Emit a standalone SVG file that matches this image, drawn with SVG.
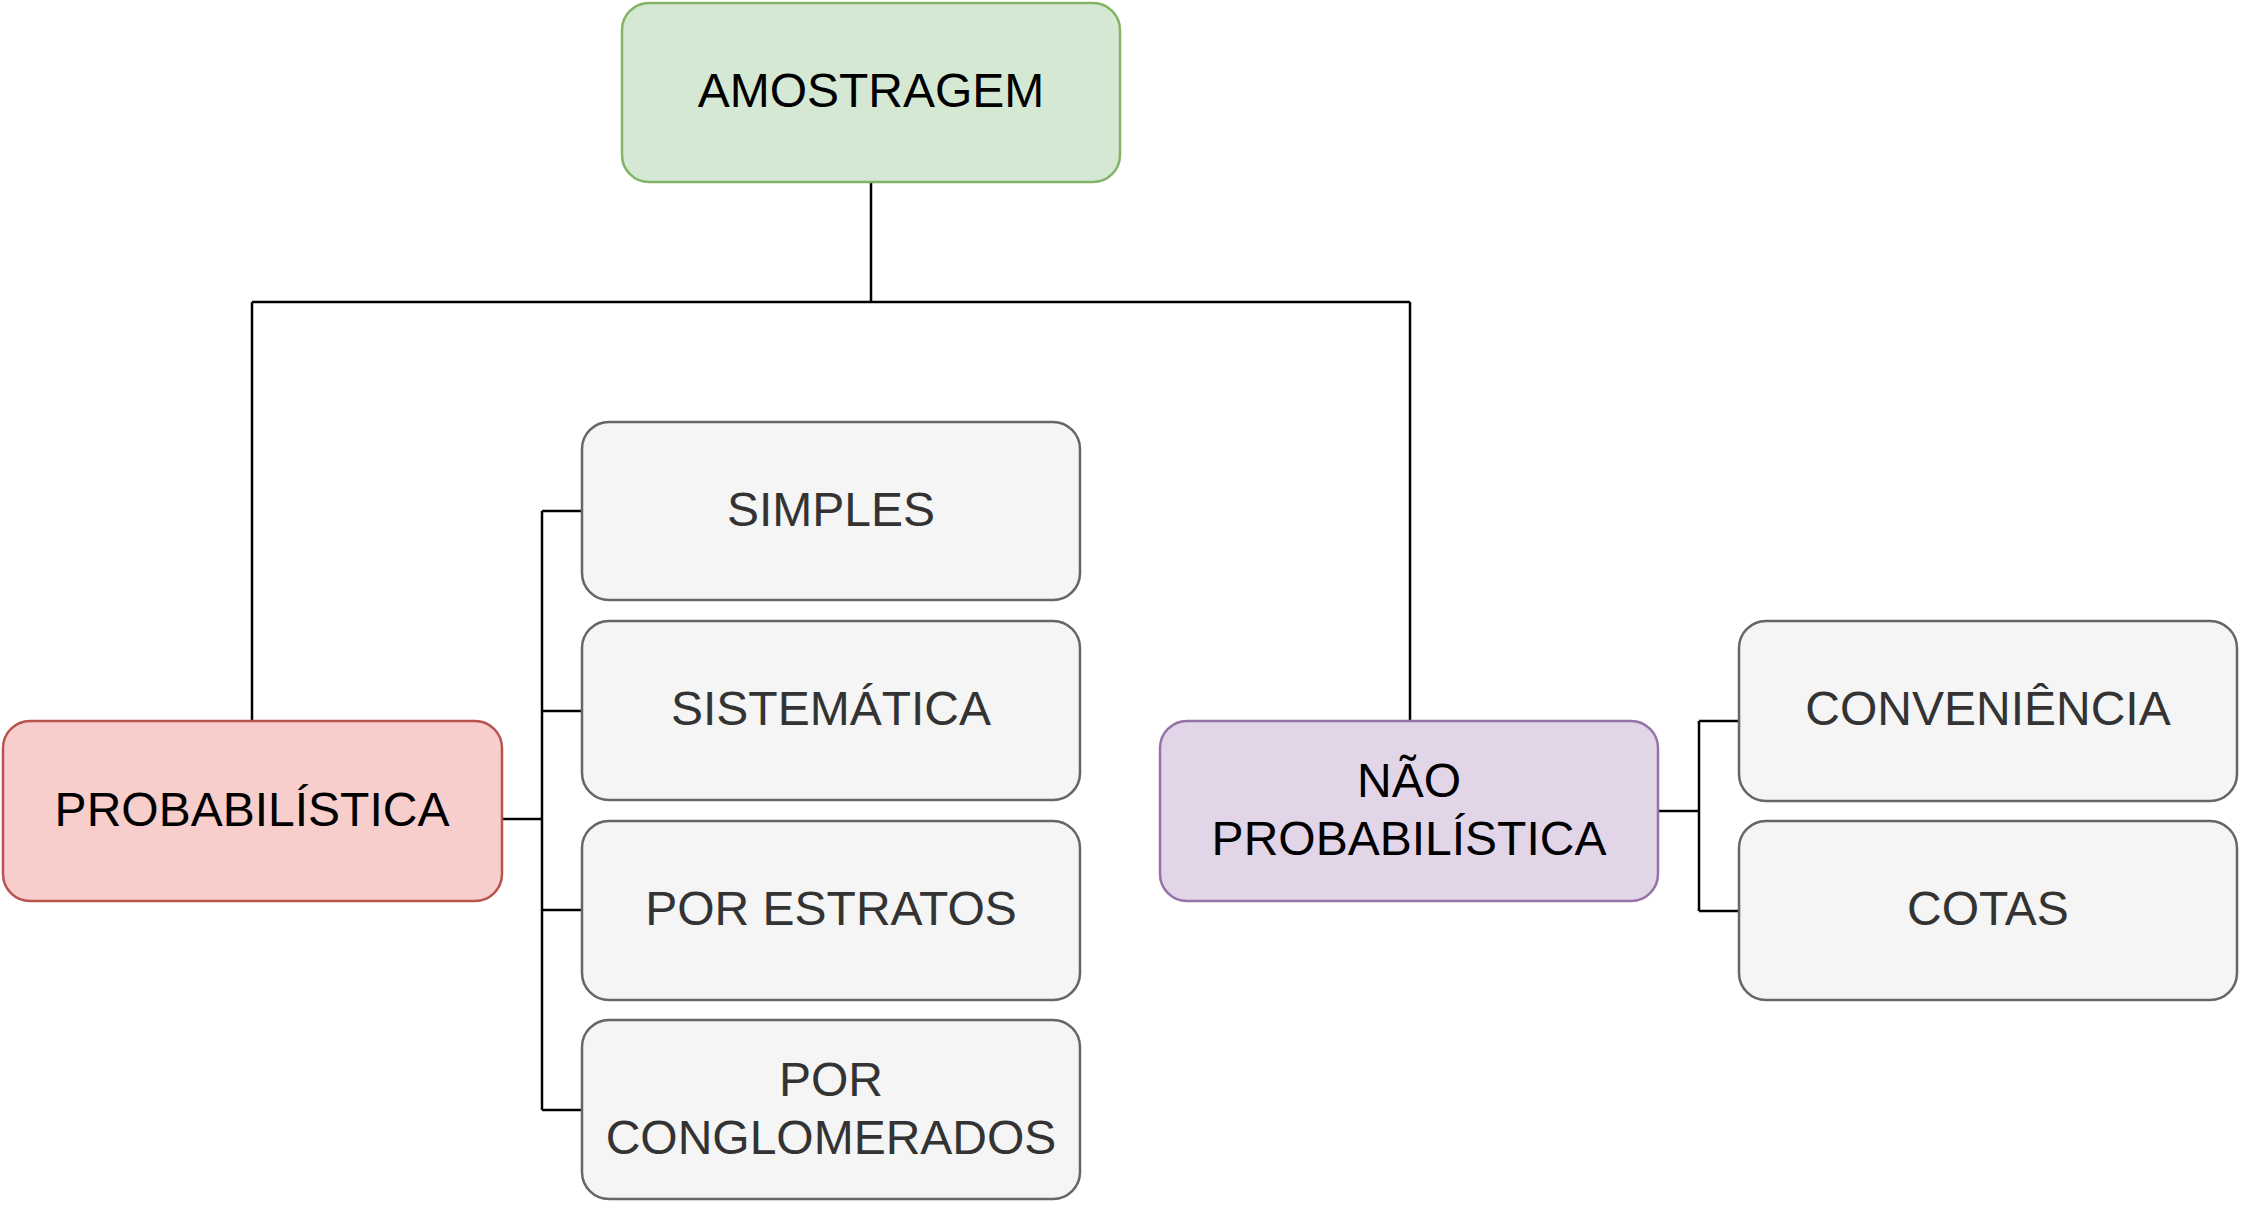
<svg xmlns="http://www.w3.org/2000/svg" width="2242" height="1208" viewBox="0 0 2242 1208">
<style>
.box{stroke-width:2.5}
.green{fill:#d5e8d4;stroke:#82b366}
.red{fill:#f8cecc;stroke:#b85450}
.purple{fill:#e1d5e7;stroke:#9673a6}
.gray{fill:#f5f5f5;stroke:#666666}
.t{font-family:"Liberation Sans",Arial,sans-serif;font-size:48px;text-anchor:middle;fill:#000000}
.tg{fill:#333333}
.c{fill:none;stroke:#000000;stroke-width:2.5}
</style>
<rect width="2242" height="1208" fill="#ffffff"/>
<g id="connectors">
<path class="c" d="M871,182 V302 M252,302 H1410 M252,302 V721 M1410,302 V721"/>
<path class="c" d="M502,819 H542 M542,511 V1110 M542,511 H582 M542,711 H582 M542,910 H582 M542,1110 H582"/>
<path class="c" d="M1658,811 H1699 M1699,721 V911 M1699,721 H1739 M1699,911 H1739"/>
</g>
<g id="amostragem">
<rect class="box green" x="622" y="3" width="498" height="179" rx="27"/>
<text class="t" x="871" y="107">AMOSTRAGEM</text>
</g>
<g id="probabilistica">
<rect class="box red" x="3" y="721" width="499" height="180" rx="27"/>
<text class="t" x="252" y="826">PROBABILÍSTICA</text>
</g>
<g id="nao-probabilistica">
<rect class="box purple" x="1160" y="721" width="498" height="180" rx="27"/>
<text class="t" x="1409" y="797">NÃO</text>
<text class="t" x="1409" y="855">PROBABILÍSTICA</text>
</g>
<g id="simples">
<rect class="box gray" x="582" y="422" width="498" height="178" rx="27"/>
<text class="t tg" x="831" y="526">SIMPLES</text>
</g>
<g id="sistematica">
<rect class="box gray" x="582" y="621" width="498" height="179" rx="27"/>
<text class="t tg" x="831" y="725">SISTEMÁTICA</text>
</g>
<g id="por-estratos">
<rect class="box gray" x="582" y="821" width="498" height="179" rx="27"/>
<text class="t tg" x="831" y="925">POR ESTRATOS</text>
</g>
<g id="por-conglomerados">
<rect class="box gray" x="582" y="1020" width="498" height="179" rx="27"/>
<text class="t tg" x="831" y="1096">POR</text>
<text class="t tg" x="831" y="1154">CONGLOMERADOS</text>
</g>
<g id="conveniencia">
<rect class="box gray" x="1739" y="621" width="498" height="180" rx="27"/>
<text class="t tg" x="1988" y="725">CONVENIÊNCIA</text>
</g>
<g id="cotas">
<rect class="box gray" x="1739" y="821" width="498" height="179" rx="27"/>
<text class="t tg" x="1988" y="925">COTAS</text>
</g>
</svg>
